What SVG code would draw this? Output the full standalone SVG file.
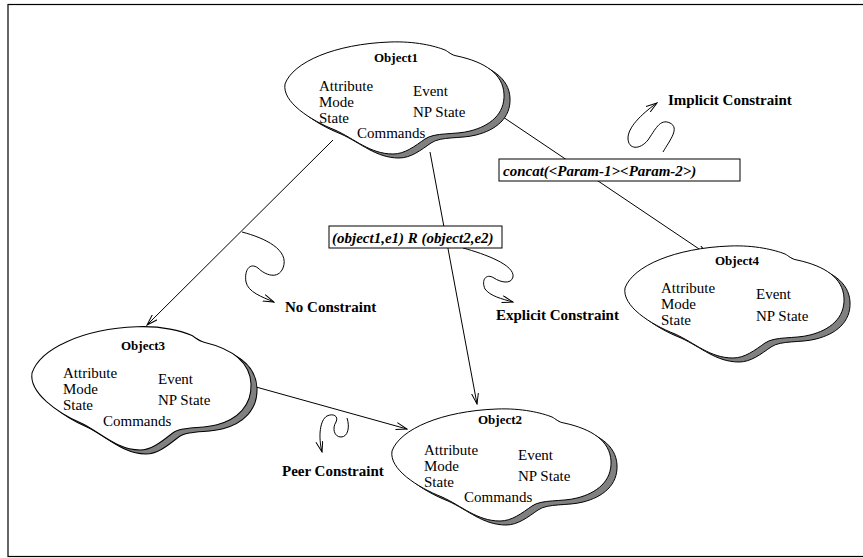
<svg xmlns="http://www.w3.org/2000/svg" width="863" height="558" viewBox="0 0 863 558">
  <defs>
    <!-- cloud outline, left tip at the origin -->
    <path id="cloud" d="M0,0 C8,-22 50,-40 105,-42 C130,-43 150,-38 160,-34 C164,-32 166,-29 172,-28 C200,-22 218,-10 219,10 C220,30 205,42 185,47 C170,51 150,48 140,55 C130,62 120,70 108,70 C85,70 70,55 50,46 C25,36 -3,18 0,0 Z"/>
    <marker id="arrow" viewBox="0 0 12 8" refX="11" refY="4" markerWidth="12" markerHeight="8" markerUnits="userSpaceOnUse" orient="auto">
      <path d="M0,0.5 L11,4 L0,7.5" fill="none" stroke="#000" stroke-width="1"/>
    </marker>
  </defs>
  <style>
    .frame { fill: #fff; stroke: #000; stroke-width: 1.2; }
    .shadow { fill: #808080; stroke: #000; stroke-width: 1; }
    .body { fill: #fff; stroke: #000; stroke-width: 1; }
    .title { font-family: "Liberation Serif", serif; font-weight: bold; font-size: 13px; text-anchor: middle; }
    .item { font-family: "Liberation Serif", serif; font-size: 15px; }
    .label { font-family: "Liberation Serif", serif; font-weight: bold; font-size: 15px; }
    .expr { font-family: "Liberation Serif", serif; font-weight: bold; font-style: italic; font-size: 15px; }
    .edge { fill: none; stroke: #000; stroke-width: 1; }
    .box { fill: #fff; stroke: #000; stroke-width: 1; }
  </style>

  <rect class="frame" x="8" y="4.5" width="870" height="552"/>

  <!-- relations between objects -->
  <g id="connectors">
    <path class="edge" d="M333,140 L147,325" marker-end="url(#arrow)"/>
    <path class="edge" d="M430,152 L477,404" marker-end="url(#arrow)"/>
    <path class="edge" d="M503,117 L708,255" marker-end="url(#arrow)"/>
    <path class="edge" d="M256,387 L407,429" marker-end="url(#arrow)"/>
    <!-- constraint squiggles -->
    <path class="edge" d="M242,232 C265,238 290,250 283,268 C278,280 265,275 258,268 C250,262 244,270 246,282 C248,292 262,297 274,302" marker-end="url(#arrow)"/>
    <path class="edge" d="M463,248 C485,254 515,265 513,277 C511,285 500,282 494,278 C486,273 481,280 485,289 C490,296 502,299 513,302" marker-end="url(#arrow)"/>
    <path class="edge" d="M663,152 C670,140 680,128 670,123 C660,118 655,130 648,140 C640,150 628,150 628,138 C628,128 640,115 657,103" marker-end="url(#arrow)"/>
    <path class="edge" d="M347,418 C350,427 348,437 341,437 C334,437 332,428 336,422 C339,416 333,413 327,416 C320,420 318,436 322,452" marker-end="url(#arrow)"/>
  </g>

  <g id="label-relation">
    <rect class="box" x="329" y="226" width="173" height="22"/>
    <text class="expr" x="332" y="243">(object1,e1) R (object2,e2)</text>
  </g>
  <g id="label-concat">
    <rect class="box" x="499" y="159" width="241" height="22"/>
    <text class="expr" x="503" y="176" font-size="15.5">concat(&lt;Param-1&gt;&lt;Param-2&gt;)</text>
  </g>

  <text class="label" x="285" y="312">No Constraint</text>
  <text class="label" x="496" y="320">Explicit Constraint</text>
  <text class="label" x="668" y="105">Implicit Constraint</text>
  <text class="label" x="282" y="476">Peer Constraint</text>

  <g id="object1" transform="translate(285,84)">
    <use href="#cloud" class="shadow" x="6" y="4"/>
    <use href="#cloud" class="body"/>
    <text class="title" x="111" y="-22">Object1</text>
    <text class="item" x="34" y="7">Attribute</text>
    <text class="item" x="34" y="23">Mode</text>
    <text class="item" x="34" y="39">State</text>
    <text class="item" x="128" y="12">Event</text>
    <text class="item" x="128" y="33">NP State</text>
    <text class="item" x="72" y="54">Commands</text>
  </g>

  <g id="object3" transform="translate(32,373)">
    <use href="#cloud" class="shadow" transform="translate(6,4) scale(1,1.1)"/>
    <use href="#cloud" class="body" transform="scale(1,1.1)"/>
    <text class="title" x="111" y="-23">Object3</text>
    <text class="item" x="31" y="5">Attribute</text>
    <text class="item" x="31" y="21">Mode</text>
    <text class="item" x="31" y="37">State</text>
    <text class="item" x="126" y="11">Event</text>
    <text class="item" x="126" y="32">NP State</text>
    <text class="item" x="71" y="53">Commands</text>
  </g>

  <g id="object2" transform="translate(392,451)">
    <use href="#cloud" class="shadow" x="6" y="4"/>
    <use href="#cloud" class="body"/>
    <text class="title" x="108" y="-27">Object2</text>
    <text class="item" x="32" y="4">Attribute</text>
    <text class="item" x="32" y="20">Mode</text>
    <text class="item" x="32" y="36">State</text>
    <text class="item" x="126" y="9">Event</text>
    <text class="item" x="126" y="30">NP State</text>
    <text class="item" x="72" y="51">Commands</text>
  </g>

  <g id="object4" transform="translate(625,288)">
    <use href="#cloud" class="shadow" x="6" y="4"/>
    <use href="#cloud" class="body"/>
    <text class="title" x="112" y="-23">Object4</text>
    <text class="item" x="36" y="5">Attribute</text>
    <text class="item" x="36" y="21">Mode</text>
    <text class="item" x="36" y="37">State</text>
    <text class="item" x="131" y="11">Event</text>
    <text class="item" x="131" y="33">NP State</text>
  </g>
</svg>
